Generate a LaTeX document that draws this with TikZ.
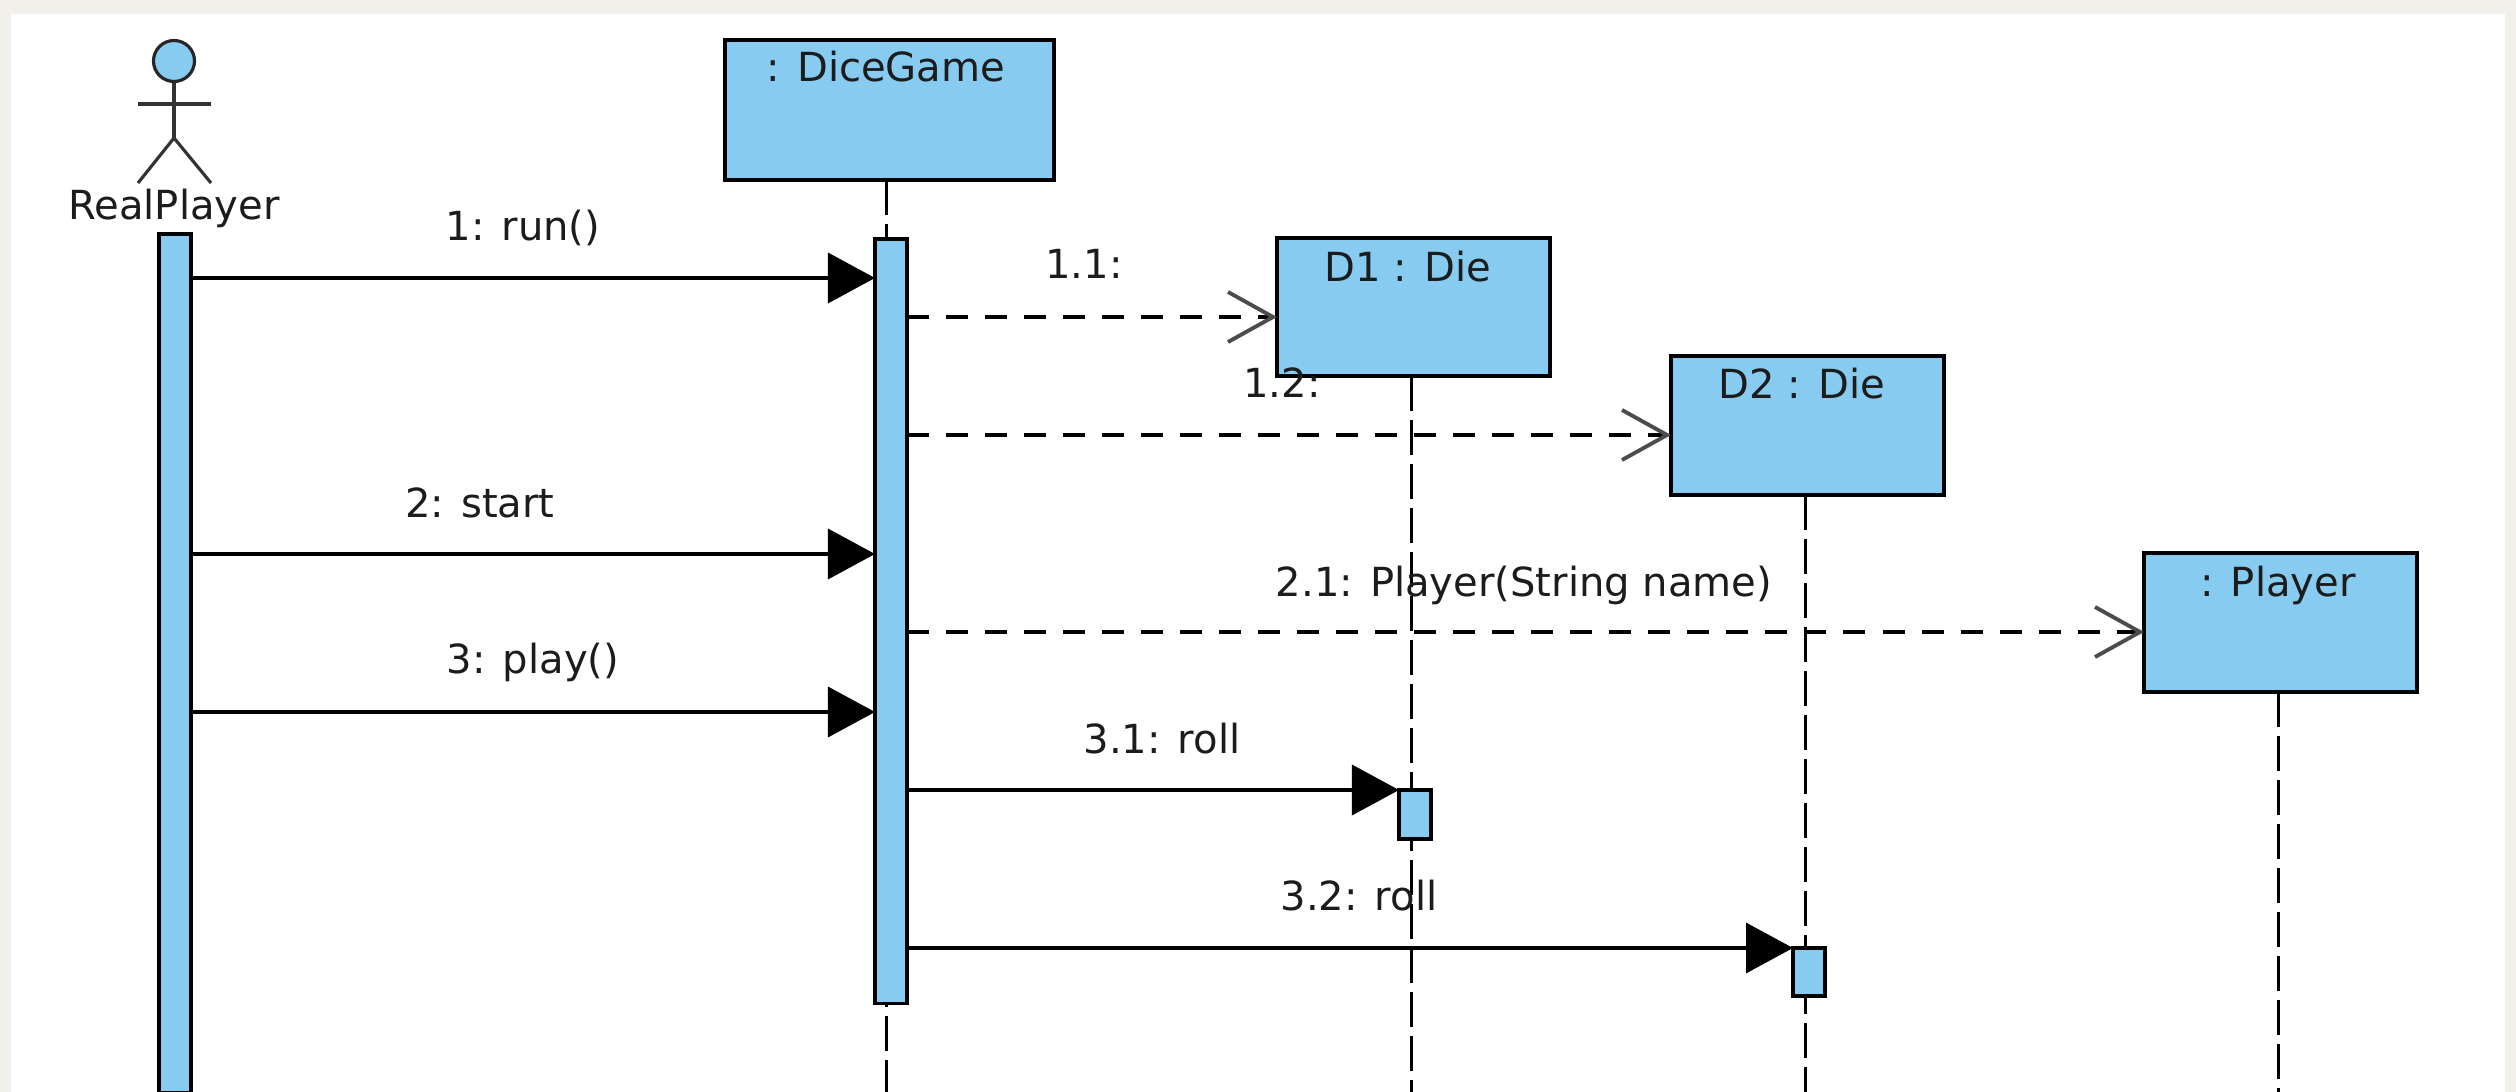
\documentclass[tikz,border=0pt]{standalone}
\usepackage{fontspec}
\setmainfont{DejaVu Sans}
\usetikzlibrary{arrows.meta}

\definecolor{pagebg}{HTML}{F2F0EA}
\definecolor{umlblue}{HTML}{87CBF0}
\definecolor{inkdark}{HTML}{1C1C1C}

\tikzset{
  objbox/.style={draw=black,fill=umlblue,line width=1.1pt,rectangle,anchor=north west,outer sep=0pt,inner sep=0pt},
  actbar/.style={draw=black,fill=umlblue,line width=0.9pt,rectangle,anchor=north west,outer sep=0pt,inner sep=0pt},
  lbl/.style={anchor=base,text=inkdark,font=\fontsize{11.4}{13}\selectfont,inner sep=0pt},
  lifeline/.style={line width=0.85pt,dash pattern=on 35*0.2845pt off 9*0.2845pt},
  syncmsg/.style={line width=1pt,-{Triangle[length=0.47cm,width=0.5cm]}},
  createmsg/.style={line width=1pt,dash pattern=on 22*0.2845pt off 17*0.2845pt,
    -{Straight Barb[length=0.45cm,width=0.5cm,line width=1.1pt,color=black!70]}},
  stick/.style={line width=0.9pt,draw=black!80},
}

\begin{document}
\begin{tikzpicture}[x=0.01cm,y=-0.01cm]

    % Page and white panel (units are pixels of the screenshot)
    \useasboundingbox (0,0) rectangle (2516,1092);
    \fill[pagebg] (0,0) rectangle (2516,1092);
    \fill[white] (11,14) rectangle (2505,1092);

    %==========================
    % Lifelines (under everything)
    %==========================
    \coordinate (lifeDG) at (886,180);
    \coordinate (lifeDI) at (1411,376);
    \coordinate (lifeDII) at (1805,495);
    \coordinate (lifePL) at (2278,692);
    \foreach \nm in {lifeDG,lifeDI,lifeDII,lifePL} {
      \draw[lifeline] (\nm) -- (\nm |- 0,1092);
    }

    %==========================
    % Actor
    %==========================
    \node[circle,draw=black!85,fill=umlblue,line width=0.9pt,minimum size=0.41cm,inner sep=0pt] (head) at (174,61) {};
    \coordinate (hip) at (174,138);
    \coordinate (armL) at (138,104);
    \coordinate (armR) at (211,104);
    \coordinate (footL) at (138,183);
    \coordinate (footR) at (211,183);
    \draw[stick] (head.south) -- (hip);
    \draw[stick] (armL) -- (armR);
    \draw[stick] (footL) -- (hip) -- (footR);
    \node[lbl] (actorname) at (174,220) {RealPlayer};

    %==========================
    % Object boxes
    %==========================
    \foreach \nm/\x/\y/\w/\h/\tx/\ty/\txt in {
        boxDG/725/40/329/140/886/82/{: DiceGame},
        boxDI/1277/238/273/138/1408/282/{D1 : Die},
        boxDII/1671/356/273/139/1802/399/{D2 : Die},
        boxPL/2144/553/273/139/2278/597/{: Player}} {
      \node[objbox,minimum width=\w*0.01cm,minimum height=\h*0.01cm] (\nm) at (\x,\y) {};
      \node[lbl] (\nm txt) at (\tx,\ty) {\txt};
    }

    %==========================
    % Activation bars
    %==========================
    \node[actbar,minimum width=0.32cm,minimum height=8.58cm] (barRP) at (159,234) {};
    \node[actbar,minimum width=0.32cm,minimum height=7.64cm] (barDG) at (875,239) {};
    \node[actbar,minimum width=0.32cm,minimum height=0.49cm] (barDI) at (1399,790) {};
    \node[actbar,minimum width=0.32cm,minimum height=0.48cm] (barDII) at (1793,948) {};

    %==========================
    % Messages
    %==========================
    % Calls from the actor
    \foreach \nm/\y in {msgA/278,msgB/554,msgC/712} {
      \coordinate (\nm) at (190,\y);
      \draw[syncmsg] (\nm) -- (\nm -| barDG.west);
    }
    % Creations, ending on the boxes
    \foreach \nm/\y/\target in {msgAa/317/boxDI,msgAb/435/boxDII,msgBa/632/boxPL} {
      \coordinate (\nm) at (907,\y);
      \draw[createmsg] (\nm) -- (\nm -| \target.west);
    }
    % Rolls
    \foreach \nm/\y/\target in {msgCa/790/barDI,msgCb/948/barDII} {
      \coordinate (\nm) at (907,\y);
      \draw[syncmsg] (\nm) -- (\nm -| \target.west);
    }

    % Message labels
    \foreach \nm/\x/\y/\txt in {
        lblA/523/241/{1: run()},
        lblAa/1084/279/{1.1:},
        lblAb/1282/398/{1.2:},
        lblB/480/518/{2: start},
        lblBa/1524/597/{2.1: Player(String name)},
        lblC/533/674/{3: play()},
        lblCa/1162/754/{3.1: roll},
        lblCb/1359/910/{3.2: roll}} {
      \node[lbl] (\nm) at (\x,\y) {\txt};
    }

\end{tikzpicture}
\end{document}
